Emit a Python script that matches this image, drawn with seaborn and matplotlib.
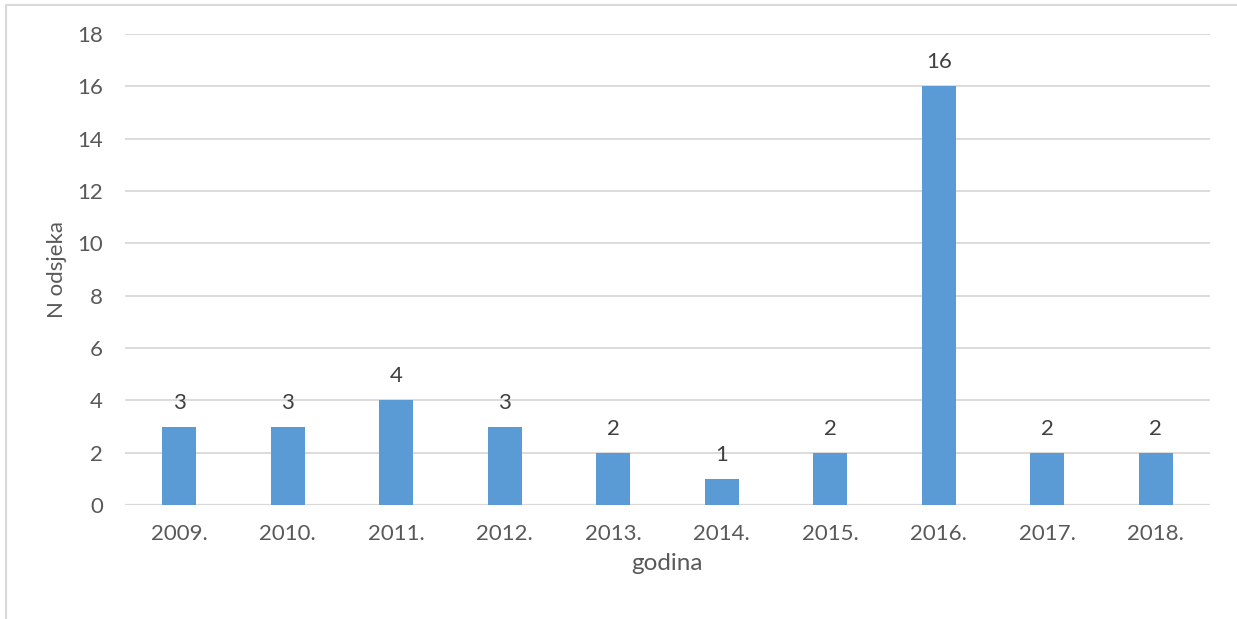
import matplotlib
matplotlib.use("Agg")
import matplotlib.pyplot as plt
import seaborn as sns
import pandas as pd
from matplotlib.patches import Rectangle

years = ["2009.", "2010.", "2011.", "2012.", "2013.", "2014.", "2015.", "2016.", "2017.", "2018."]
counts = [3, 3, 4, 3, 2, 1, 2, 16, 2, 2]
y_ticks = [0, 2, 4, 6, 8, 10, 12, 14, 16, 18]

df = pd.DataFrame({"godina": years, "n": counts})

sns.set_theme(style="white")
plt.rcParams["font.family"] = ["Lato", "DejaVu Sans"]

W, H = 1237, 619
fig = plt.figure(figsize=(W / 100, H / 100), dpi=100)
ax = fig.add_axes([125 / W, 1 - 505 / H, (1210 - 125) / W, (505 - 34) / H])

text_color = "#595959"
grid_color = "#D9D9D9"

sns.barplot(data=df, x="godina", y="n", color="#5B9BD5", width=0.315,
            saturation=1, linewidth=0, ax=ax, zorder=3)

ax.set_xlim(-0.5, len(years) - 0.5)
ax.set_ylim(0, 18)
ax.set_yticks(y_ticks)
ax.yaxis.grid(True, color=grid_color, linewidth=1.3, zorder=0)
ax.set_axisbelow(True)
for s in ax.spines.values():
    s.set_visible(False)
ax.axhline(0, color=grid_color, linewidth=1.6, zorder=2)

ax.tick_params(axis="both", length=0, labelsize=16, colors=text_color)
ax.tick_params(axis="x", pad=14)
ax.tick_params(axis="y", pad=16)

ax.set_xlabel("godina", fontsize=17.5, color=text_color, labelpad=6)
ax.set_ylabel("N odsjeka", fontsize=16, color=text_color, labelpad=7)

for c in ax.containers:
    ax.bar_label(c, labels=[str(v) for v in counts], padding=10,
                 fontsize=16, color="#404040")

# light frame around the chart area
fig.add_artist(Rectangle((5.5 / W, -0.1), 1.2, 1.1 - 5.5 / H,
                         transform=fig.transFigure, fill=False,
                         edgecolor=grid_color, linewidth=1.5, clip_on=False))

fig.savefig("out.png", dpi=100)
